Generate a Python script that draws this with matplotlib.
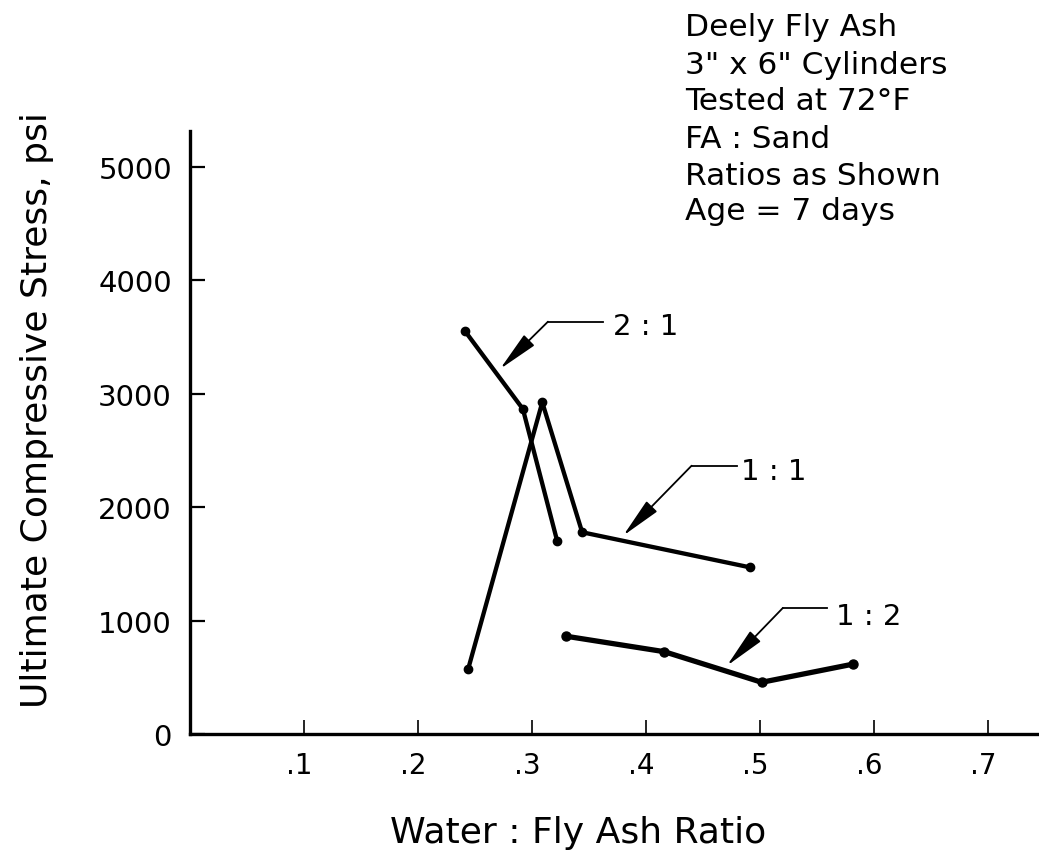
import matplotlib
matplotlib.use("Agg")
import matplotlib.pyplot as plt
import matplotlib.transforms as mtransforms

# FA : sand ratio series, strength at 7 days vs water : fly ash ratio
wfa_21 = [0.241, 0.292, 0.322]
psi_21 = [3556, 2866, 1705]

wfa_11 = [0.244, 0.309, 0.344, 0.491]
psi_11 = [573, 2925, 1779, 1470]

wfa_12 = [0.330, 0.416, 0.5015, 0.582]
psi_12 = [862, 726, 456, 617]

x_ticks = [0.1, 0.2, 0.3, 0.4, 0.5, 0.6, 0.7]
x_tick_labels = [".1", ".2", ".3", ".4", ".5", ".6", ".7"]
y_ticks = [0, 1000, 2000, 3000, 4000, 5000]

notes = ["Deely Fly Ash", '3" x 6" Cylinders', "Tested at 72°F",
         "FA : Sand", "Ratios as Shown", "Age = 7 days"]

# callout layout: label, bend of leader, end of leader, text x, text baseline, arrow tip
callouts = [
    ("2 : 1", (0.314, 3636), 0.362, 0.371, 3527, (0.272, 3219)),
    ("1 : 1", (0.440, 2366), 0.4795, 0.483, 2249, (0.380, 1749)),
    ("1 : 2", (0.520, 1111), 0.559, 0.567, 970, (0.471, 602)),
]

W, H = 1039, 854
fig = plt.figure(figsize=(W / 100, H / 100), dpi=100)
ax = fig.add_axes([190 / W, (H - 735) / H, (W - 190) / W, (735 - 132) / H])

# data lines
ax.plot(wfa_21, psi_21, color="k", lw=3.1, marker="o", ms=6, solid_capstyle="round")
ax.plot(wfa_11, psi_11, color="k", lw=3.1, marker="o", ms=6, solid_capstyle="round")
ax.plot(wfa_12, psi_12, color="k", lw=3.8, marker="o", ms=6.5, solid_capstyle="round")

# callouts with leader and filled arrowhead
for label, bend, lead_end, tx, ty, tip in callouts:
    ax.plot([bend[0], lead_end], [bend[1], bend[1]], color="k", lw=1.3)
    ax.annotate("", xy=tip, xytext=bend,
                arrowprops=dict(arrowstyle="-|>,head_length=1.05,head_width=0.19",
                                mutation_scale=24, lw=1.3, color="k",
                                shrinkA=0, shrinkB=0))
    ax.text(tx, ty, label, fontsize=21, ha="left", va="baseline")

ax.set_xlim(0, (W - 190) / 1140)
ax.set_ylim(0, 603 / 0.1134)

ax.set_xticks(x_ticks)
ax.set_xticklabels(x_tick_labels, fontsize=20)
ax.set_yticks(y_ticks)
ax.set_yticklabels([str(v) for v in y_ticks], fontsize=21)
ax.tick_params(axis="x", direction="in", length=10, width=1.2, pad=12)
ax.tick_params(axis="y", direction="in", length=11, width=1.6, pad=13)

# nudge x tick labels so the digit sits over the tick
shift = mtransforms.ScaledTranslation(-5 / 100, 0, fig.dpi_scale_trans)
for lab in ax.get_xticklabels():
    lab.set_transform(lab.get_transform() + shift)

for side in ["top", "right"]:
    ax.spines[side].set_visible(False)
ax.spines["left"].set_linewidth(2.4)
ax.spines["bottom"].set_linewidth(2.4)

# axis titles
fig.text(390 / W, (H - 843) / H, "Water : Fly Ash Ratio", fontsize=26,
         ha="left", va="baseline")
fig.text(47 / W, (H - 410) / H, "Ultimate Compressive Stress, psi", fontsize=26,
         rotation=90, rotation_mode="anchor", ha="center", va="baseline")

# test conditions block
baselines = [36, 74, 110, 148, 185, 220]
for line, b in zip(notes, baselines):
    fig.text(685 / W, (H - b) / H, line, fontsize=22.5, ha="left", va="baseline")

fig.savefig("out.png", dpi=100)
